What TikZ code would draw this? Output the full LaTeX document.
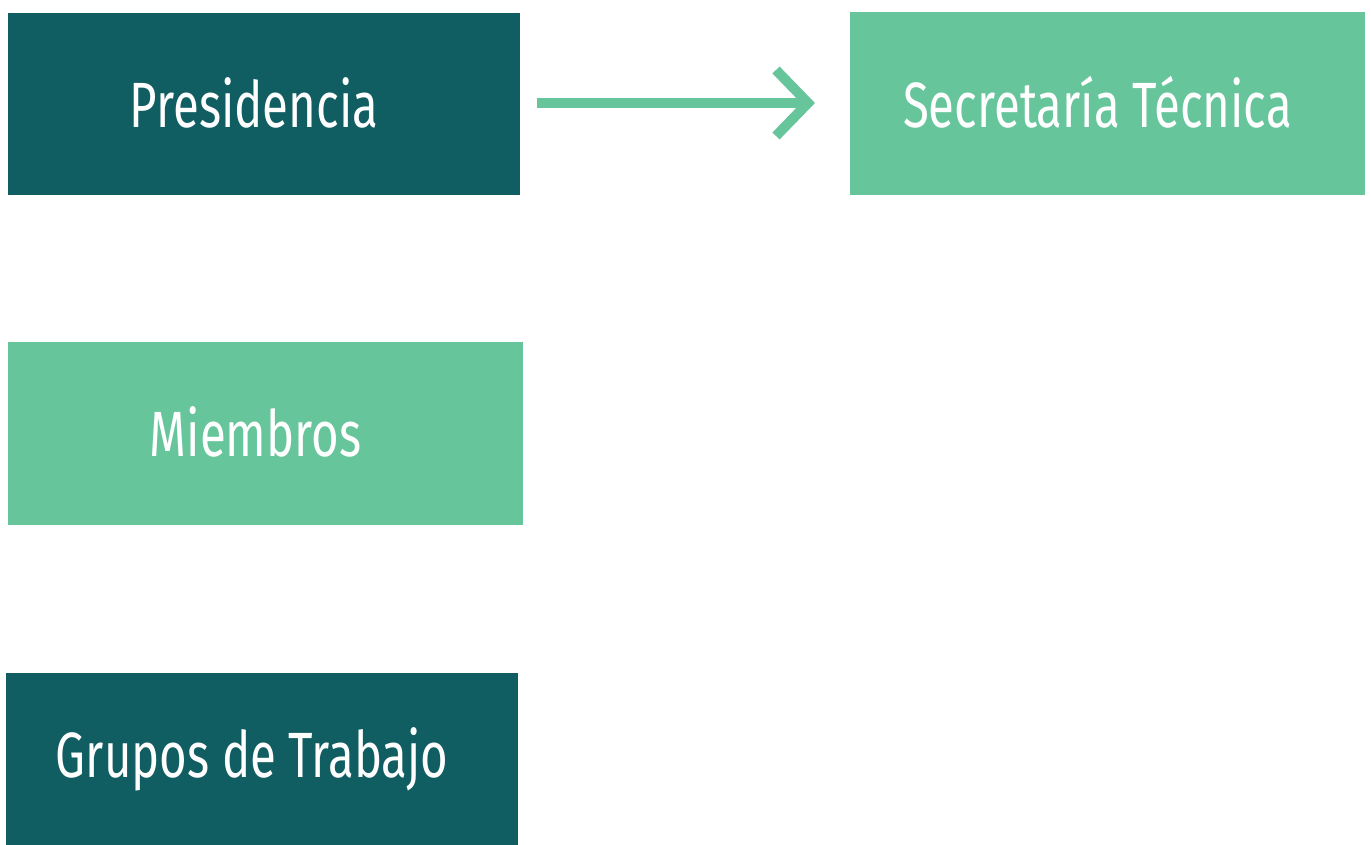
\documentclass[tikz,border=0pt]{standalone}
\usepackage{fontspec}
\setmainfont{Fira Sans}[FakeStretch=0.74]
\definecolor{darkteal}{HTML}{115E62}
\definecolor{lightgreen}{HTML}{66C59B}
\newcommand{\boxlbl}[2][1.5pt]{\raisebox{#1}{#2}\hspace*{10pt}\null}
\begin{document}
\begin{tikzpicture}[x=0.5pt,y=-0.5pt,
  box/.style={draw=none,inner sep=0pt,text=white,font=\fontsize{32}{38}\selectfont},
  dark/.style={box,fill=darkteal},
  light/.style={box,fill=lightgreen}]
\useasboundingbox (0,0) rectangle (1371,845);
\node[dark,minimum width=256pt,minimum height=91pt] (pres) at (264,104) {\boxlbl{Presidencia}};
\node[light,minimum width=257.5pt,minimum height=91.5pt] (sec) at (1107.5,103.5) {\boxlbl{Secretaría Técnica}};
\node[light,minimum width=257.5pt,minimum height=91.5pt] (miem) at (265.5,433.5) {\boxlbl{Miembros}};
\node[dark,minimum width=256pt,minimum height=86pt] (grup) at (262,759) {\boxlbl[-2pt]{Grupos de Trabajo}};
\coordinate (tip) at (808,103);
\draw[lightgreen,line width=5pt] (537,103) -- (804,103);
\draw[lightgreen,line width=5pt,line join=miter] (776,70) -- (tip) -- (776,136);
\end{tikzpicture}
\end{document}
